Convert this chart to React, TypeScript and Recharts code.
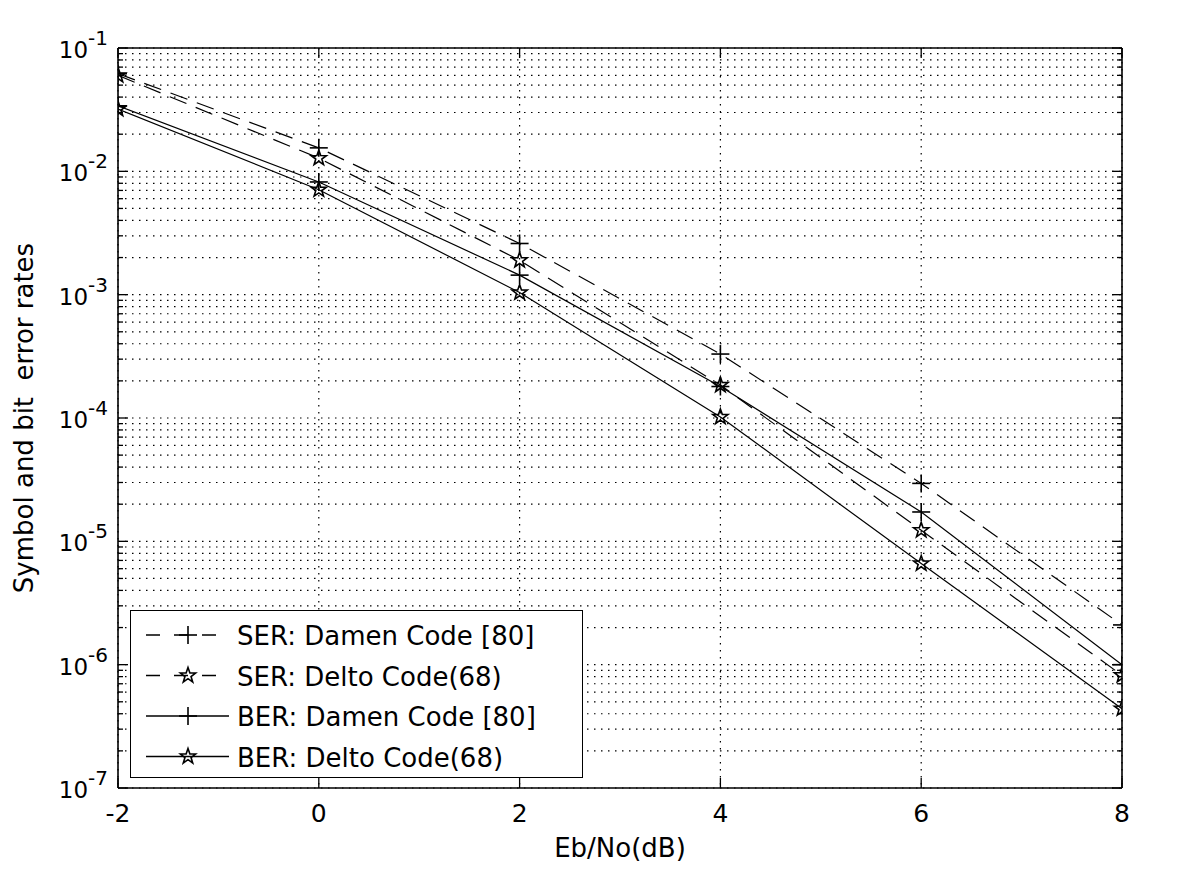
import React from "react";
import {
  LineChart,
  Line,
  XAxis,
  YAxis,
  CartesianGrid,
  ReferenceLine,
} from "recharts";

// Eb/No in dB
const ebNo = [-2, 0, 2, 4, 6, 8];

// error rates
const serDamen = [0.062, 0.0155, 0.0026, 3.3e-4, 2.95e-5, 2.1e-6];
const serDelto = [0.06, 0.0128, 0.0019, 1.85e-4, 1.23e-5, 8.2e-7];
const berDamen = [0.034, 0.0082, 0.00144, 1.8e-4, 1.73e-5, 1.0e-6];
const berDelto = [0.032, 0.0071, 0.00104, 1.02e-4, 6.6e-6, 4.4e-7];

const xTicks = [-2, 0, 2, 4, 6, 8];
const decades = [-7, -6, -5, -4, -3, -2, -1];
const yTicks: number[] = [];
decades.forEach((e) => {
  for (let m = 1; m <= 9; m++) {
    if (e === -1 && m > 1) break;
    yTicks.push(m * Math.pow(10, e));
  }
});

const legendItems = [
  { label: "SER: Damen Code [80]", dashed: true, marker: "plus" },
  { label: "SER: Delto Code(68)", dashed: true, marker: "star" },
  { label: "BER: Damen Code [80]", dashed: false, marker: "plus" },
  { label: "BER: Delto Code(68)", dashed: false, marker: "star" },
];

const data = ebNo.map((x, i) => ({
  x,
  serDamen: serDamen[i],
  serDelto: serDelto[i],
  berDamen: berDamen[i],
  berDelto: berDelto[i],
}));

const PW = 1004;
const PH = 740;
const FONT = "'DejaVu Sans', Verdana, sans-serif";
const DASH = "18 10";

const starPoints = (cx: number, cy: number, R: number) => {
  const pts: string[] = [];
  for (let i = 0; i < 10; i++) {
    const r = i % 2 === 0 ? R : R * 0.4;
    const a = ((-90 + i * 36) * Math.PI) / 180;
    pts.push(`${cx + r * Math.cos(a)},${cy + r * Math.sin(a)}`);
  }
  return pts.join(" ");
};

const PlusMark = ({ cx, cy }: { cx: number; cy: number }) => (
  <g>
    <line x1={cx - 9} y1={cy} x2={cx + 9} y2={cy} stroke="#000" strokeWidth={1.6} />
    <line x1={cx} y1={cy - 9} x2={cx} y2={cy + 9} stroke="#000" strokeWidth={1.6} />
  </g>
);

const StarMark = ({ cx, cy }: { cx: number; cy: number }) => (
  <polygon points={starPoints(cx, cy, 8)} fill="none" stroke="#000" strokeWidth={1.6} />
);

const plusDot = (props: any) => (
  <PlusMark key={`p-${props.dataKey}-${props.index}`} cx={props.cx} cy={props.cy} />
);
const starDot = (props: any) => (
  <StarMark key={`s-${props.dataKey}-${props.index}`} cx={props.cx} cy={props.cy} />
);

const YTick = (props: any) => {
  const { x, y, payload } = props;
  const v = payload.value;
  const e = Math.round(Math.log10(v));
  const major = Math.abs(v - Math.pow(10, e)) / v < 1e-6;
  const len = major ? 10 : 5;
  return (
    <g>
      <line x1={x} y1={y} x2={x + len} y2={y} stroke="#000" strokeWidth={1.3} />
      <line x1={x + PW} y1={y} x2={x + PW - len} y2={y} stroke="#000" strokeWidth={1.3} />
      {major && (
        <text x={x - 10} y={y + 10} textAnchor="end" fontFamily={FONT} fontSize={23} fill="#000">
          10
          <tspan dy={-13} fontSize={20}>
            {String(e)}
          </tspan>
        </text>
      )}
    </g>
  );
};

const XTick = (props: any) => {
  const { x, y, payload } = props;
  return (
    <g>
      <line x1={x} y1={y} x2={x} y2={y - 10} stroke="#000" strokeWidth={1.3} />
      <line x1={x} y1={y - PH} x2={x} y2={y - PH + 10} stroke="#000" strokeWidth={1.3} />
      <text x={x} y={y + 34} textAnchor="middle" fontFamily={FONT} fontSize={25} fill="#000">
        {String(payload.value)}
      </text>
    </g>
  );
};

const ChartLegend = () => (
  <div
    style={{
      position: "absolute",
      left: 130,
      top: 610,
      width: 453,
      height: 168,
      border: "1.5px solid #000",
      background: "#fff",
      boxSizing: "border-box",
    }}
  >
    <svg width={450} height={165} style={{ display: "block" }}>
      {legendItems.map((it, i) => {
        const cy = 24 + i * 40.5;
        return (
          <g key={it.label}>
            <line
              x1={15}
              y1={cy}
              x2={98}
              y2={cy}
              stroke="#000"
              strokeWidth={1.3}
              strokeDasharray={it.dashed ? "14 14" : undefined}
            />
            {it.marker === "plus" ? <PlusMark cx={57} cy={cy} /> : <StarMark cx={57} cy={cy} />}
            <text x={106} y={cy + 10} fontFamily={FONT} fontSize={26} fill="#000">
              {it.label}
            </text>
          </g>
        );
      })}
    </svg>
  </div>
);

const App: React.FC = () => {
  return (
    <div style={{ position: "absolute", left: 0, top: 0, width: 1200, height: 888, background: "#fff" }}>
      <LineChart
        width={1200}
        height={888}
        data={data}
        margin={{ top: 48, right: 78, bottom: 0, left: 0 }}
      >
        <CartesianGrid stroke="#000" strokeDasharray="1.5 5.5" strokeWidth={1.2} />
        <XAxis
          dataKey="x"
          type="number"
          domain={[-2, 8]}
          ticks={xTicks}
          interval={0}
          allowDataOverflow
          height={100}
          tickLine={false}
          tickSize={0}
          tickMargin={0}
          tick={<XTick />}
          axisLine={{ stroke: "#000", strokeWidth: 1.6 }}
          label={(p: any) => {
            const vb = p.viewBox;
            return (
              <text
                x={vb.x + vb.width / 2}
                y={vb.y + 69}
                textAnchor="middle"
                fontFamily={FONT}
                fontSize={26}
                fill="#000"
              >
                Eb/No(dB)
              </text>
            );
          }}
        />
        <YAxis
          type="number"
          scale="log"
          domain={[1e-7, 1e-1]}
          ticks={yTicks}
          interval={0}
          allowDataOverflow
          width={118}
          tickLine={false}
          tickSize={0}
          tickMargin={0}
          tick={<YTick />}
          axisLine={{ stroke: "#000", strokeWidth: 1.6 }}
          label={(p: any) => {
            const vb = p.viewBox;
            const cx = vb.x + 33;
            const cy = vb.y + vb.height / 2;
            return (
              <text
                x={cx}
                y={cy}
                transform={`rotate(-90 ${cx} ${cy})`}
                textAnchor="middle"
                fontFamily={FONT}
                fontSize={26}
                fill="#000"
                style={{ whiteSpace: "pre" }}
              >
                Symbol and bit  error rates
              </text>
            );
          }}
        />
        <ReferenceLine y={0.1} stroke="#000" strokeWidth={1.6} ifOverflow="visible" />
        <ReferenceLine x={8} stroke="#000" strokeWidth={1.6} ifOverflow="visible" />
        <Line
          dataKey="serDamen"
          name="SER: Damen Code [80]"
          type="linear"
          stroke="#000"
          strokeWidth={1.2}
          strokeDasharray={DASH}
          dot={plusDot}
          activeDot={false}
          isAnimationActive={false}
        />
        <Line
          dataKey="serDelto"
          name="SER: Delto Code(68)"
          type="linear"
          stroke="#000"
          strokeWidth={1.2}
          strokeDasharray={DASH}
          dot={starDot}
          activeDot={false}
          isAnimationActive={false}
        />
        <Line
          dataKey="berDamen"
          name="BER: Damen Code [80]"
          type="linear"
          stroke="#000"
          strokeWidth={1.2}
          dot={plusDot}
          activeDot={false}
          isAnimationActive={false}
        />
        <Line
          dataKey="berDelto"
          name="BER: Delto Code(68)"
          type="linear"
          stroke="#000"
          strokeWidth={1.2}
          dot={starDot}
          activeDot={false}
          isAnimationActive={false}
        />
      </LineChart>
      <ChartLegend />
    </div>
  );
};

export default App;
